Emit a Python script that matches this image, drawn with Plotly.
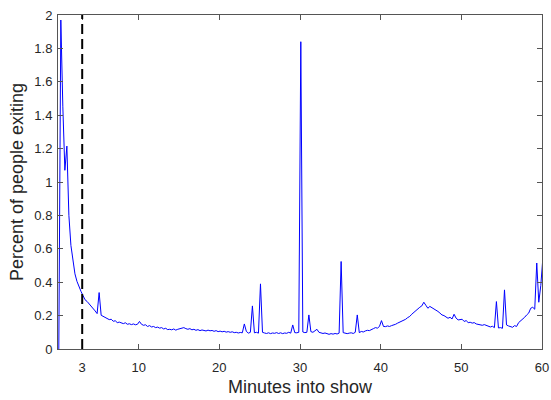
import numpy as np
import plotly.graph_objects as go

# Sample times: every 15 s, offset by 0.1 min (minutes into show)
start_minute = 0.1
step_minutes = 0.25

# Percent of people exiting, four samples per minute (minute 0 .. 59, plus one past 60)
pct_exiting = [
    0.0, 1.97, 1.45, 1.07,          # 0
    1.215, 0.80, 0.62, 0.52,        # 1
    0.45, 0.405, 0.37, 0.345,       # 2
    0.32, 0.295, 0.285, 0.272,      # 3
    0.258, 0.243, 0.228, 0.212,     # 4
    0.338, 0.202, 0.195, 0.188,     # 5
    0.182, 0.176, 0.178, 0.166,     # 6
    0.169, 0.158, 0.161, 0.154,     # 7
    0.152, 0.157, 0.148, 0.151,     # 8
    0.146, 0.150, 0.145, 0.148,     # 9
    0.165, 0.148, 0.142, 0.145,     # 10
    0.135, 0.140, 0.132, 0.135,     # 11
    0.128, 0.131, 0.125, 0.128,     # 12
    0.120, 0.124, 0.116, 0.118,     # 13
    0.115, 0.120, 0.113, 0.118,     # 14
    0.122, 0.125, 0.128, 0.122,     # 15
    0.118, 0.122, 0.115, 0.118,     # 16
    0.112, 0.116, 0.110, 0.114,     # 17
    0.112, 0.108, 0.113, 0.109,     # 18
    0.111, 0.106, 0.110, 0.104,     # 19
    0.107, 0.103, 0.106, 0.101,     # 20
    0.104, 0.100, 0.103, 0.098,     # 21
    0.100, 0.096, 0.099, 0.097,     # 22
    0.150, 0.105, 0.095, 0.100,     # 23
    0.258, 0.097, 0.100, 0.095,     # 24
    0.390, 0.100, 0.096, 0.093,     # 25
    0.097, 0.092, 0.096, 0.094,     # 26
    0.098, 0.093, 0.097, 0.092,     # 27
    0.096, 0.094, 0.100, 0.095,     # 28
    0.144, 0.098, 0.097, 0.100,     # 29
    1.840, 0.102, 0.098, 0.100,     # 30
    0.204, 0.104, 0.100, 0.110,     # 31
    0.118, 0.100, 0.097, 0.093,     # 32
    0.096, 0.090, 0.088, 0.092,     # 33
    0.089, 0.093, 0.090, 0.095,     # 34
    0.524, 0.098, 0.094, 0.092,     # 35
    0.095, 0.097, 0.093, 0.100,     # 36
    0.204, 0.098, 0.105, 0.102,     # 37
    0.108, 0.112, 0.110, 0.118,     # 38
    0.122, 0.128, 0.125, 0.135,     # 39
    0.170, 0.135, 0.134, 0.138,     # 40
    0.135, 0.140, 0.142, 0.148,     # 41
    0.155, 0.160, 0.164, 0.170,     # 42
    0.178, 0.188, 0.195, 0.208,     # 43
    0.220, 0.232, 0.238, 0.250,     # 44
    0.258, 0.280, 0.262, 0.244,     # 45
    0.255, 0.248, 0.240, 0.234,     # 46
    0.225, 0.215, 0.204, 0.200,     # 47
    0.192, 0.184, 0.190, 0.180,     # 48
    0.208, 0.185, 0.174, 0.176,     # 49
    0.178, 0.165, 0.170, 0.158,     # 50
    0.160, 0.155, 0.158, 0.150,     # 51
    0.148, 0.144, 0.142, 0.146,     # 52
    0.140, 0.138, 0.132, 0.136,     # 53
    0.128, 0.284, 0.126, 0.128,     # 54
    0.124, 0.354, 0.144, 0.138,     # 55
    0.134, 0.130, 0.140, 0.135,     # 56
    0.158, 0.168, 0.178, 0.190,     # 57
    0.204, 0.215, 0.244, 0.250,     # 58
    0.238, 0.515, 0.280, 0.380,     # 59
    0.540,                          # 60
]
minutes = start_minute + step_minutes * np.arange(len(pct_exiting))

marker_minute = 3
x_tick_vals = [3, 10, 20, 30, 40, 50, 60]
x_tick_text = ["3", "10", "20", "30", "40", "50", "60"]
y_tick_vals = [0, 0.2, 0.4, 0.6, 0.8, 1, 1.2, 1.4, 1.6, 1.8, 2]
y_tick_text = ["0", "0.2", "0.4", "0.6", "0.8", "1", "1.2", "1.4", "1.6", "1.8", "2"]

FONT = "Liberation Sans, Arial, Helvetica, sans-serif"

fig = go.Figure()
fig.add_trace(go.Scatter(
    x=minutes, y=pct_exiting, mode="lines",
    line=dict(color="#0000FF", width=1), showlegend=False, hoverinfo="skip",
))
fig.add_vline(x=marker_minute, line=dict(color="black", width=2, dash="10px,5px"))

axis_common = dict(
    showgrid=False, zeroline=False, showline=True, linecolor="#555555", linewidth=1,
    mirror="ticks", ticks="inside", ticklen=5, tickcolor="#555555", tickwidth=1,
    tickfont=dict(family=FONT, size=13, color="#262626"),
    title_font=dict(family=FONT, size=18, color="#262626"),
    automargin=False,
)
fig.update_xaxes(range=[0, 60], tickvals=x_tick_vals, ticktext=x_tick_text,
                 ticklabelstandoff=6,
                 title_text="Minutes into show", title_standoff=6, **axis_common)
fig.update_yaxes(range=[0, 2], tickvals=y_tick_vals, ticktext=y_tick_text,
                 ticklabelstandoff=2,
                 title_text="Percent of people exiting", title_standoff=6, **axis_common)
fig.update_layout(
    width=551, height=400,
    margin=dict(l=58, r=9, t=15, b=51),
    plot_bgcolor="white", paper_bgcolor="white",
)
fig.write_html("out.html", config={"displayModeBar": False},
               post_script="document.body.style.margin='0';")
